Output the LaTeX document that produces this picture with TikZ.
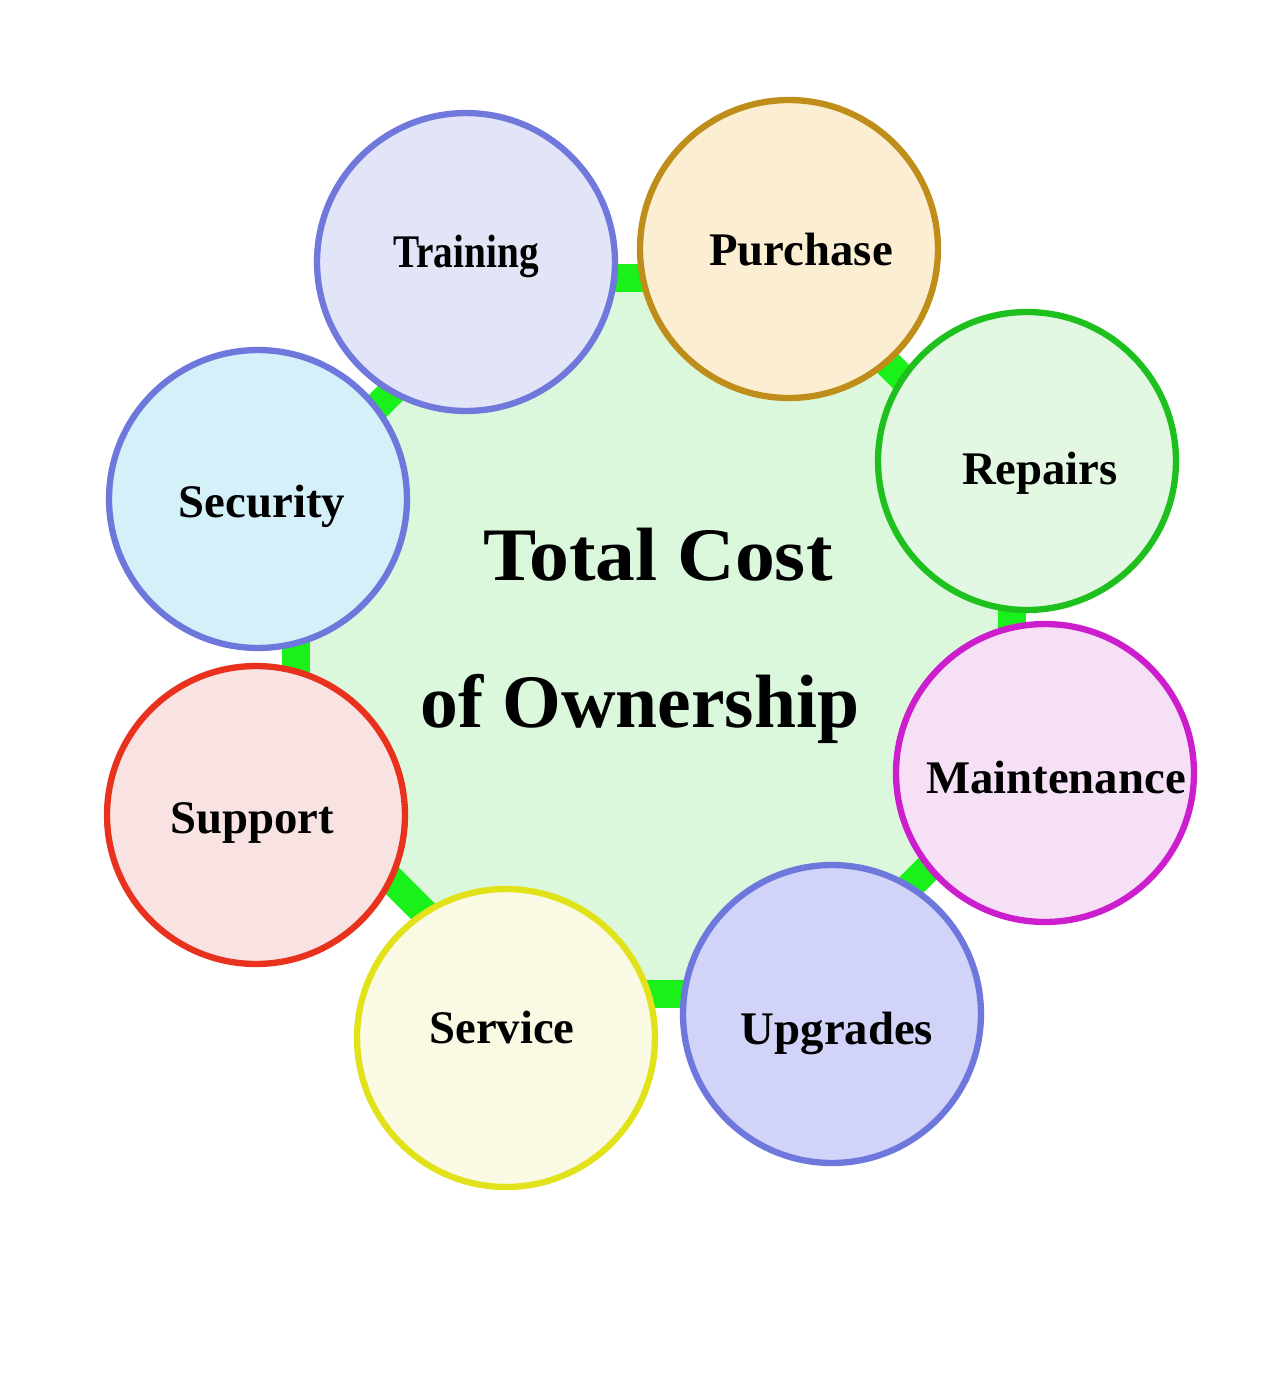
\documentclass[tikz,border=0pt]{standalone}
\usepackage{fontspec}
\setmainfont{Liberation Serif}
\usepackage{tikz}
\usetikzlibrary{positioning}

\definecolor{octfill}{HTML}{DCF8DC}
\definecolor{octline}{HTML}{1AF01A}
\definecolor{trainfill}{HTML}{E2E4F8}
\definecolor{trainline}{HTML}{7078DC}
\definecolor{purchfill}{HTML}{FBEED3}
\definecolor{purchline}{HTML}{BF8E1A}
\definecolor{repfill}{HTML}{E2F8E2}
\definecolor{repline}{HTML}{1EC01E}
\definecolor{maintfill}{HTML}{F6E0F6}
\definecolor{maintline}{HTML}{CC1ECC}
\definecolor{upgfill}{HTML}{D1D4F8}
\definecolor{upgline}{HTML}{6E78DC}
\definecolor{servfill}{HTML}{FAFAE4}
\definecolor{servline}{HTML}{E2E21A}
\definecolor{suppfill}{HTML}{F8E2E2}
\definecolor{suppline}{HTML}{E8321E}
\definecolor{secfill}{HTML}{D4F0F8}
\definecolor{secline}{HTML}{6E78DC}

\tikzset{
  part/.style={circle, line width=3.6pt, minimum size=5.96cm, inner sep=0pt},
  lbl/.style={font=\fontsize{26.6}{30}\selectfont\bfseries, anchor=base, inner sep=0pt},
  ttl/.style={font=\fontsize{43}{50}\selectfont\bfseries, anchor=base, inner sep=0pt}
}

\begin{document}
\begin{tikzpicture}[x=0.02cm, y=-0.02cm]
    \useasboundingbox (0,0) rectangle (1275,1390);

    % centre octagon
    \draw[draw=octline, fill=octfill, line width=15.9pt, shift={(654,636)}]
        (22.5:387.5) \foreach \a in {67.5,112.5,...,337.5} { -- (\a:387.5) } -- cycle;

    % the eight cost parts
    \node[part, draw=trainline, fill=trainfill] (training) at (466,262) {};
    \node[part, draw=purchline, fill=purchfill] (purchase) at (789,249) {};
    \node[part, draw=repline, fill=repfill] (repairs) at (1027,461) {};
    \node[part, draw=maintline, fill=maintfill] (maintenance) at (1045,773) {};
    \node[part, draw=upgline, fill=upgfill] (upgrades) at (832,1014) {};
    \node[part, draw=servline, fill=servfill] (service) at (506,1038) {};
    \node[part, draw=suppline, fill=suppfill] (support) at (256,815) {};
    \node[part, draw=secline, fill=secfill] (security) at (258,499) {};

    \node[lbl] (trainingtext) at (466,267) {\scalebox{0.84}[1]{Training}};
    \node[lbl] (purchasetext) at (801,265) {Purchase};
    \node[lbl] (repairstext) at (1040,484) {Repairs};
    \node[lbl] (maintenancetext) at (1056,793) {Maintenance};
    \node[lbl] (upgradestext) at (837,1044) {Upgrades};
    \node[lbl] (servicetext) at (502,1043) {Service};
    \node[lbl] (supporttext) at (252,833) {Support};
    \node[lbl] (securitytext) at (262,517) {Security};

    % title
    \node[ttl] (title) at (658,580) {\scalebox{1.055}[1]{Total Cost}};
    \node[ttl] (subtitle) at (640,727) {of Ownership};
\end{tikzpicture}
\end{document}
